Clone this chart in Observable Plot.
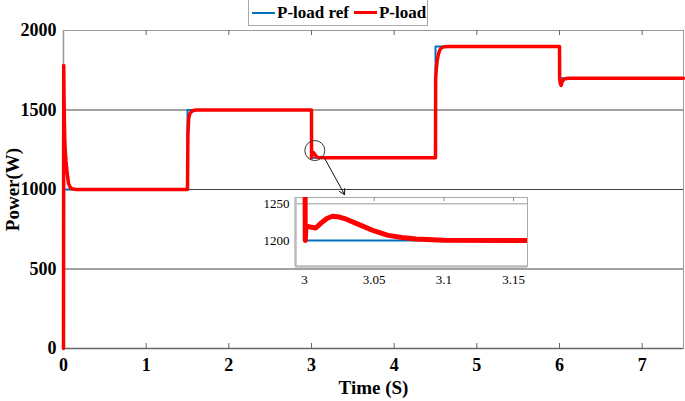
<!DOCTYPE html>
<html>
<head>
<meta charset="utf-8">
<script src="https://cdn.jsdelivr.net/npm/d3@7"></script>
<script src="https://cdn.jsdelivr.net/npm/@observablehq/plot@0.6"></script>
<style>
  body { margin: 0; background: white; }
  #wrap { position: relative; width: 685px; height: 401px; overflow: hidden; }
  #legend { position: absolute; left: 248px; top: -1px; width: 180px; height: 27px; border: 1px solid #aaa; background: white;
    display: flex; align-items: center; font: bold 17px "Liberation Serif", serif; color: #000; padding-left: 3px; box-sizing: border-box; }
  #legend .sw { display: inline-block; width: 23px; height: 2px; margin-right: 2px; }
  #inset { position: absolute; left: 250px; top: 190px; }
</style>
</head>
<body>
<div id="wrap">
  <div id="main"></div>
  <div id="inset"></div>
  <div id="legend">
    <span class="sw" style="background:#0072BD"></span><span>P-load ref</span>
    <span class="sw" style="background:#FF0000;margin-left:5px;height:3px"></span><span>P-load</span>
  </div>
</div>
<script>
// Reference (step) series
const refT = [0, 1.5, 3, 4.5, 6, 7.5];
const refP = [1000, 1500, 1200, 1900, 1700, 1700];

// Measured load power
const loadT = [0, 0.003, 0.006, 0.01, 0.015, 0.02, 0.03, 0.045, 0.06, 0.08, 0.1, 0.15,
  1.5, 1.505, 1.515, 1.53, 1.56, 1.6,
  3.0, 3.0005, 3.001, 3.005, 3.008, 3.012, 3.016, 3.02, 3.025, 3.03, 3.04, 3.05, 3.06, 3.07, 3.08, 3.1, 3.16,
  4.5, 4.502, 4.51, 4.52, 4.535, 4.55, 4.57, 4.6, 4.65,
  6.0, 6.002, 6.01, 6.02, 6.03, 6.05, 6.08, 6.12, 7.5];
const loadP = [0, 1780, 1600, 1450, 1320, 1250, 1180, 1100, 1040, 1015, 1005, 1000,
  1000, 1350, 1450, 1480, 1495, 1500,
  1500, 1200, 1220, 1218, 1217, 1224, 1230, 1233, 1232, 1229, 1221, 1213, 1207, 1204, 1202, 1200.5, 1200,
  1200, 1700, 1760, 1810, 1850, 1875, 1890, 1897, 1900,
  1900, 1700, 1665, 1655, 1675, 1692, 1698, 1700, 1700];

const xTicks = [0, 1, 2, 3, 4, 5, 6, 7];
const yTicks = [0, 500, 1000, 1500, 2000];
const gridVals = [500, 1000, 1500];
const xDomain = [0, 7.5];
const yDomain = [0, 2000];

const insetXDomain = [2.9935, 3.16];
const insetYDomain = [1164.6, 1258.6];
const insetXTicks = [3, 3.05, 3.1, 3.15];
const insetYTicks = [1200, 1250];

// annotation: circle around the transient and arrow to the inset
const circleAt = [{x: 3.04, y: 1245}];
const arrowAt = [{x1: 3.16, y1: 1195, x2: 3.40, y2: 968}];

const refData = refT.map((t, i) => ({t, p: refP[i]}));
const loadData = loadT.map((t, i) => ({t, p: loadP[i]}));

const font = "'Liberation Serif', 'Times New Roman', serif";
const plain = d => String(d);

const main = Plot.plot({
  width: 685, height: 401,
  marginLeft: 63, marginRight: 2, marginTop: 30, marginBottom: 53,
  x: {domain: xDomain},
  y: {domain: yDomain},
  style: {fontFamily: font, background: "white", color: "#000"},
  marks: [
    Plot.ruleY(gridVals, {stroke: "#444", strokeWidth: 1}),
    Plot.frame({stroke: "#999"}),
    Plot.ruleX([xDomain[0]], {stroke: "#999", strokeWidth: 1.5}),
    Plot.ruleY([yDomain[0]], {stroke: "#666", strokeWidth: 1.5}),
    // inward ticks bottom and top
    Plot.ruleX(xTicks.slice(1), {y1: yDomain[0], y2: yDomain[0], insetTop: -5, stroke: "#666"}),
    Plot.ruleX(xTicks.slice(1), {y1: yDomain[1], y2: yDomain[1], insetBottom: -5, stroke: "#666"}),
    Plot.axisX(xTicks, {anchor: "bottom", tickSize: 0, tickPadding: 10, fontSize: 18, fontWeight: "bold", label: null, tickFormat: plain}),
    Plot.axisY(yTicks, {anchor: "left", tickSize: 0, tickPadding: 7, fontSize: 18, fontWeight: "bold", label: null, tickFormat: plain}),
    Plot.text(["Power(W)"], {frameAnchor: "left", rotate: -90, dx: -51, fontSize: 19, fontWeight: "bold", lineAnchor: "middle", textAnchor: "middle"}),
    Plot.text(["Time (S)"], {frameAnchor: "bottom", dy: 39, fontSize: 19, fontWeight: "bold", lineAnchor: "middle", textAnchor: "middle"}),
    Plot.line(refData, {x: "t", y: "p", curve: "step-after", stroke: "#0072BD", strokeWidth: 2}),
    Plot.line(loadData, {x: "t", y: "p", stroke: "#FF0000", strokeWidth: 3.5}),
    Plot.dot(circleAt, {x: "x", y: "y", r: 10, stroke: "#333", fill: "none", strokeWidth: 1}),
    Plot.arrow(arrowAt, {x1: "x1", y1: "y1", x2: "x2", y2: "y2", stroke: "#111", strokeWidth: 1, headLength: 9})
  ]
});
document.getElementById("main").append(main);

const inset = Plot.plot({
  width: 290, height: 100,
  marginLeft: 45, marginRight: 13, marginTop: 7, marginBottom: 24,
  x: {domain: insetXDomain},
  y: {domain: insetYDomain},
  style: {fontFamily: font, background: "transparent", color: "#000"},
  marks: [
    Plot.frame({fill: "white", stroke: "#aaa"}),
    Plot.ruleY([insetYTicks[1]], {stroke: "#999"}),
    Plot.ruleX(insetXTicks, {y1: insetYDomain[1], y2: insetYDomain[1], insetBottom: -4, stroke: "#888"}),
    Plot.line(refData, {x: "t", y: "p", curve: "step-after", stroke: "#0072BD", strokeWidth: 2, clip: true}),
    Plot.line(loadData, {x: "t", y: "p", stroke: "#FF0000", strokeWidth: 5, clip: true}),
    Plot.ruleX([insetXDomain[0]], {stroke: "#bbb", strokeWidth: 2.5}),
    Plot.ruleY([insetYDomain[0]], {stroke: "#bbb", strokeWidth: 2.5}),
    Plot.axisY(insetYTicks, {anchor: "left", tickSize: 0, tickPadding: 6, fontSize: 13, label: null, tickFormat: plain}),
    Plot.axisX(insetXTicks, {anchor: "bottom", tickSize: 0, tickPadding: 8, fontSize: 13, label: null, tickFormat: plain})
  ]
});
document.getElementById("inset").append(inset);
</script>
</body>
</html>
